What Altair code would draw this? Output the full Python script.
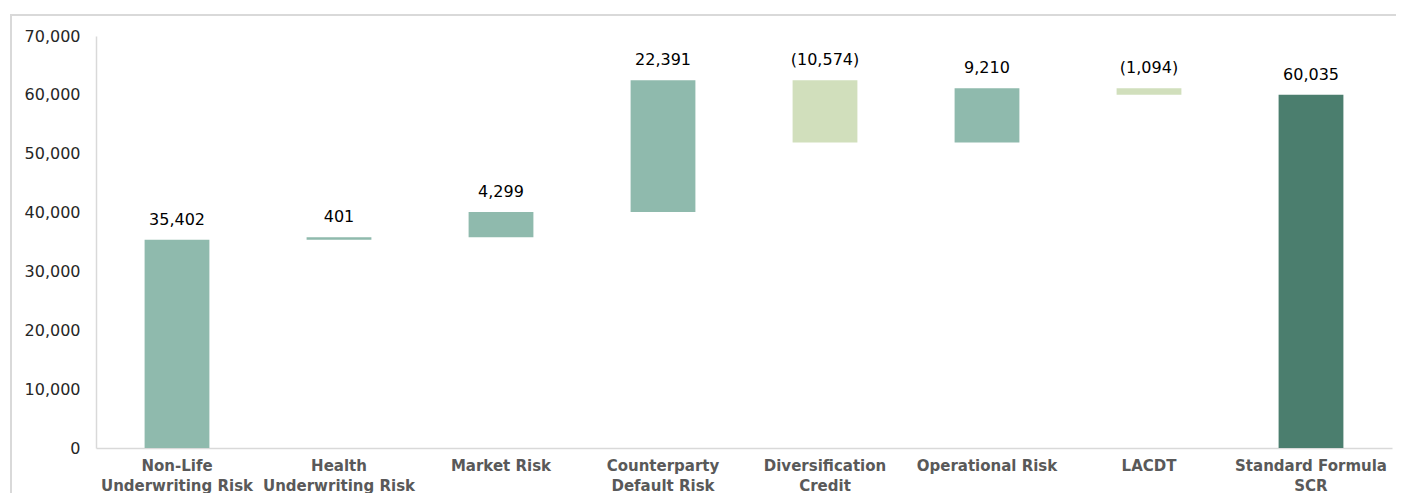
import altair as alt
import pandas as pd

categories = ["Non-Life Underwriting Risk", "Health Underwriting Risk", "Market Risk",
              "Counterparty Default Risk", "Diversification Credit", "Operational Risk",
              "LACDT", "Standard Formula SCR"]
label_lines = [["Non-Life", "Underwriting Risk"], ["Health", "Underwriting Risk"], ["Market Risk"],
               ["Counterparty", "Default Risk"], ["Diversification", "Credit"], ["Operational Risk"],
               ["LACDT"], ["Standard Formula", "SCR"]]
amounts = [35402, 401, 4299, 22391, -10574, 9210, -1094, 60035]
kinds = ["increase", "increase", "increase", "increase", "decrease", "increase", "decrease", "total"]
y_ticks = [0, 10000, 20000, 30000, 40000, 50000, 60000, 70000]

rows = []
running = 0
for cat, amt, kind in zip(categories, amounts, kinds):
    if kind == "total":
        start, end = 0, amt
    else:
        start, end = running, running + amt
        running = end
    label = f"({abs(amt):,})" if amt < 0 else f"{amt:,}"
    rows.append({"cat": cat, "start": start, "end": end, "kind": kind,
                 "top": max(start, end), "label": label})
df = pd.DataFrame(rows)

# label expression mapping category -> multi-line array
parts = []
for cat, lines in zip(categories, label_lines):
    arr = "[" + ",".join("'" + l + "'" for l in lines) + "]"
    parts.append(f"datum.label == '{cat}' ? {arr}")
label_expr = " : ".join(parts) + " : datum.label"

x_enc = alt.X("cat:N", sort=categories,
              scale=alt.Scale(paddingInner=0.6, paddingOuter=0.3),
              axis=alt.Axis(title=None, labelAngle=0, labelExpr=label_expr))

base = alt.Chart(df)

bars = base.mark_bar().encode(
    x=x_enc,
    y=alt.Y("start:Q", scale=alt.Scale(domain=[0, 70000], nice=False),
            axis=alt.Axis(title=None, values=y_ticks, format=",.0f")),
    y2="end:Q",
    color=alt.Color("kind:N",
                    scale=alt.Scale(domain=["increase", "decrease", "total"],
                                    range=["#8FBAAD", "#D1DFBC", "#4B7E6E"]),
                    legend=None),
)

texts = base.mark_text(baseline="alphabetic", dy=-15, fontSize=16,
                       font="DejaVu Sans", color="#000000").encode(
    x=alt.X("cat:N", sort=categories),
    y="top:Q",
    text="label:N",
)

one = pd.DataFrame({"a": [0]})
frame_top = alt.Chart(one).mark_rule(stroke="#D9D9D9", strokeWidth=2).encode(
    x=alt.value(-85), x2=alt.value(1600), y=alt.value(-21))
frame_left = alt.Chart(one).mark_rule(stroke="#D9D9D9", strokeWidth=2).encode(
    x=alt.value(-85), y=alt.value(-22), y2=alt.value(600))

chart = alt.layer(frame_top, frame_left, bars, texts).properties(
    width=1296, height=412,
    autosize=alt.AutoSizeParams(type="none"),
    padding={"left": 88, "top": 28, "right": 4, "bottom": 45},
).configure_view(strokeWidth=0).configure_axisX(
    domainColor="#D9D9D9", domainWidth=1.5, ticks=False,
    labelFont="DejaVu Sans", labelFontWeight="bold", labelColor="#595959",
    labelFontSize=15, labelPadding=10, labelLineHeight=20, labelLimit=300,
).configure_axisY(
    domainColor="#D9D9D9", domainWidth=1.5, ticks=False, grid=False,
    labelFont="DejaVu Sans", labelColor="#262626", labelFontSize=16, labelPadding=16,
)

chart.save("out.html", embed_options={"renderer": "svg", "actions": False})
